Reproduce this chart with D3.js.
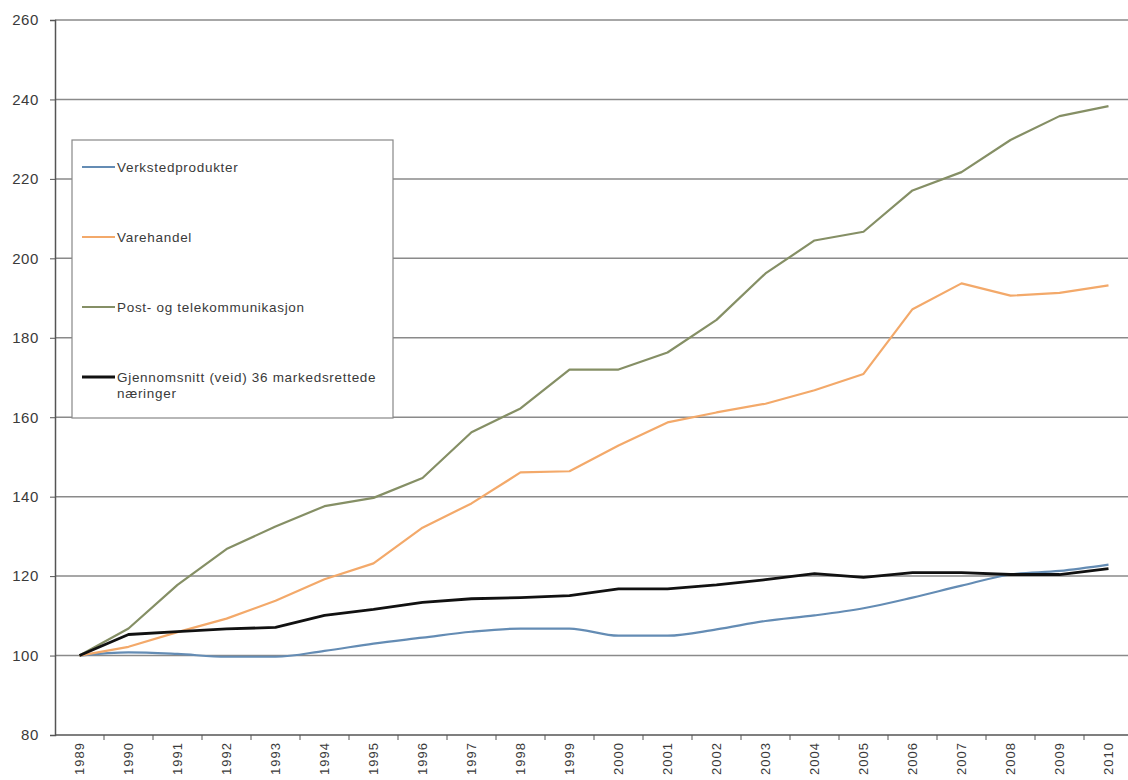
<!DOCTYPE html>
<html>
<head>
<meta charset="utf-8">
<script src="https://cdn.jsdelivr.net/npm/d3@7"></script>
<style>
    body { margin: 0; background: #fff; }
    svg text { font-family: "Liberation Sans", Arial, sans-serif; fill: #3a3a3a; }
</style>
</head>
<body>
<div id="container"></div>
<script>
const years = ['1989', '1990', '1991', '1992', '1993', '1994', '1995', '1996', '1997', '1998', '1999',
    '2000', '2001', '2002', '2003', '2004', '2005', '2006', '2007', '2008', '2009', '2010'];

const verksted = [100, 100.8, 100.4, 99.7, 99.7, 101.2, 103, 104.5, 106, 106.8, 106.8,
    105, 105, 106.6, 108.7, 110.1, 111.9, 114.6, 117.6, 120.4, 121.3, 122.9];
const varehandel = [100, 102.2, 105.9, 109.3, 113.8, 119.2, 123.2, 132.2, 138.3, 146.1, 146.4,
    152.9, 158.7, 161.2, 163.4, 166.8, 170.9, 187.2, 193.7, 190.6, 191.3, 193.2];
const posttele = [100, 106.8, 117.8, 126.8, 132.5, 137.6, 139.7, 144.7, 156.2, 162.2, 172,
    172, 176.3, 184.5, 196.2, 204.5, 206.7, 217.1, 221.7, 229.8, 235.8, 238.3];
const snitt = [100, 105.3, 106, 106.7, 107.1, 110.1, 111.6, 113.4, 114.3, 114.6, 115.1,
    116.8, 116.8, 117.8, 119.1, 120.6, 119.7, 120.9, 120.9, 120.4, 120.4, 121.9];

const yTicks = [80, 100, 120, 140, 160, 180, 200, 220, 240, 260];

const seriesNames = ['Verkstedprodukter', 'Varehandel', 'Post- og telekommunikasjon',
    'Gjennomsnitt (veid) 36 markedsrettede|næringer'];
const seriesColors = ['#648cb4', '#f3a96a', '#858f65', '#111111'];
const seriesWidths = [2.2, 2.2, 2.2, 2.8];
const seriesData = [verksted, varehandel, posttele, snitt];

const W = 1128, H = 780;
const plotLeft = 55, plotTop = 20, plotBottom = 735;

const svg = d3.select('#container')
    .append('svg')
    .attr('width', W)
    .attr('height', H);

const x = d3.scaleBand()
    .domain(years)
    .range([plotLeft, plotLeft + 49 * years.length])
    .padding(0);

const y = d3.scaleLinear()
    .domain([80, 260])
    .range([plotBottom, plotTop]);

// gridlines
svg.append('g')
    .selectAll('line')
    .data(yTicks.filter(d => d > 80))
    .enter()
    .append('line')
    .attr('x1', plotLeft)
    .attr('x2', W)
    .attr('y1', d => y(d))
    .attr('y2', d => y(d))
    .attr('stroke', '#8a8a8a')
    .attr('stroke-width', 1.5);

// y axis
const yAxis = svg.append('g')
    .attr('transform', `translate(${plotLeft},0)`)
    .call(d3.axisLeft(y).tickValues(yTicks).tickSize(5).tickPadding(11));
yAxis.select('.domain').attr('stroke', '#555').attr('stroke-width', 1.5);
yAxis.selectAll('.tick line').attr('stroke', '#555');
yAxis.selectAll('.tick text')
    .style('font-size', '15px')
    .style('letter-spacing', '0.6px')
    .attr('fill', '#3a3a3a');

// x axis
const xAxis = svg.append('g')
    .attr('transform', `translate(0,${plotBottom})`)
    .call(d3.axisBottom(x).tickSize(0).tickSizeOuter(0));
xAxis.select('.domain').remove();
xAxis.append('line')
    .attr('x1', plotLeft)
    .attr('x2', W)
    .attr('stroke', '#555')
    .attr('stroke-width', 1.5);
xAxis.selectAll('.boundary')
    .data(years.slice(1))
    .enter()
    .append('line')
    .attr('x1', d => x(d))
    .attr('x2', d => x(d))
    .attr('y1', 0)
    .attr('y2', 5)
    .attr('stroke', '#555');
xAxis.selectAll('.tick text')
    .attr('transform', 'rotate(-90)')
    .attr('text-anchor', 'end')
    .attr('x', -7)
    .attr('y', 0)
    .attr('dy', '0.35em')
    .style('font-size', '13px')
    .style('letter-spacing', '1px')
    .attr('fill', '#3a3a3a');

// legend box
const lg = svg.append('g');
lg.append('rect')
    .attr('x', 72)
    .attr('y', 140)
    .attr('width', 321)
    .attr('height', 278)
    .attr('fill', '#fff')
    .attr('stroke', '#888')
    .attr('stroke-width', 1.2);

seriesNames.forEach((name, i) => {
    const ly = 167 + i * 70;
    lg.append('line')
        .attr('x1', 82)
        .attr('x2', 115)
        .attr('y1', ly)
        .attr('y2', ly)
        .attr('stroke', seriesColors[i])
        .attr('stroke-width', seriesWidths[i]);
    const t = lg.append('text')
        .attr('x', 117)
        .attr('y', ly)
        .style('font-size', '13.5px')
        .style('letter-spacing', '0.7px');
    name.split('|').forEach((part, j) => {
        t.append('tspan')
            .attr('x', 117)
            .attr('dy', j === 0 ? '0.35em' : '1.2em')
            .text(part);
    });
});

// lines
const cx = d => x(d) + x.bandwidth() / 2;

seriesData.forEach((vals, i) => {
    const line = d3.line()
        .x((d, k) => cx(years[k]))
        .y(d => y(d))
        .curve(i === 0 ? d3.curveMonotoneX : d3.curveLinear);
    svg.append('path')
        .datum(vals)
        .attr('d', line)
        .attr('fill', 'none')
        .attr('stroke', seriesColors[i])
        .attr('stroke-width', seriesWidths[i])
        .attr('stroke-linejoin', 'round');
});
</script>
</body>
</html>
